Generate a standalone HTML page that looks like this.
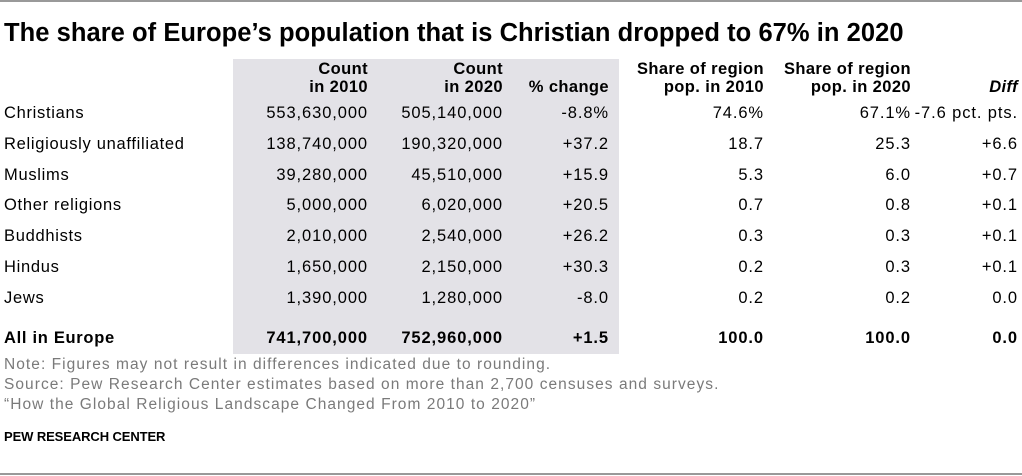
<!DOCTYPE html>
<html><head><meta charset="utf-8"><style>
body{margin:0;width:1022px;height:476px;background:#fff;position:relative;overflow:hidden;font-family:"Liberation Sans",sans-serif;color:#000}
.a{position:absolute;white-space:nowrap}
.c{font-size:16.5px;letter-spacing:0.7px}
.h{font-size:16.5px;font-weight:bold;line-height:18px;text-align:right;letter-spacing:0.4px}
.n{font-size:15.5px;color:#7a7a7a;letter-spacing:1.05px}
</style></head><body>
<div class="a" style="left:0;top:0;width:1022px;height:2px;background:#999"></div>
<div class="a" style="left:0;top:473px;width:1022px;height:2px;background:#999"></div>
<div class="a" style="left:4px;top:19px;font-size:25.5px;font-weight:bold;letter-spacing:0.05px">The share of Europe’s population that is Christian dropped to 67% in 2020</div>
<div class="a" style="left:233px;top:59px;width:386px;height:295px;background:#e3e2e7"></div>
<div id="tbl"></div>
<div class="a n" style="left:4px;top:356px">Note: Figures may not result in differences indicated due to rounding.</div>
<div class="a n" style="left:4px;top:376px">Source: Pew Research Center estimates based on more than 2,700 censuses and surveys.</div>
<div class="a n" style="left:4px;top:396px">“How the Global Religious Landscape Changed From 2010 to 2020”</div>
<div class="a" style="left:4px;top:429px;font-size:13px;font-weight:bold;letter-spacing:-0.1px">PEW RESEARCH CENTER</div>
<script>
const headers=[["Count","in 2010"],["Count","in 2020"],["","% change"],["Share of region","pop. in 2010"],["Share of region","pop. in 2020"],["","Diff"]];
const groups=["Christians","Religiously unaffiliated","Muslims","Other religions","Buddhists","Hindus","Jews","All in Europe"];
const count2010=["553,630,000","138,740,000","39,280,000","5,000,000","2,010,000","1,650,000","1,390,000","741,700,000"];
const count2020=["505,140,000","190,320,000","45,510,000","6,020,000","2,540,000","2,150,000","1,280,000","752,960,000"];
const pctChange=["-8.8%","+37.2","+15.9","+20.5","+26.2","+30.3","-8.0","+1.5"];
const share2010=["74.6%","18.7","5.3","0.7","0.3","0.2","0.2","100.0"];
const share2020=["67.1%","25.3","6.0","0.8","0.3","0.3","0.2","100.0"];
const diff=["-7.6 pct. pts.","+6.6","+0.7","+0.1","+0.1","+0.1","0.0","0.0"];
const rights=[368,503,609,764,911,1018];
const cols=[count2010,count2020,pctChange,share2010,share2020,diff];
const T=document.getElementById('tbl');
function add(txt,cls,l,r,t,name){const d=document.createElement('div');d.className='a '+cls;d.textContent=txt;


if(r!=null){d.style.right=(1022-r)+'px';}else d.style.left=l+'px';d.style.top=t+'px';T.appendChild(d);return d;}
headers.forEach((h,i)=>{const d=add('', 'h',null,rights[i],60,'column-header');d.innerHTML=h[0]+'<br>'+(i==5?'<i>'+h[1]+'</i>':h[1]);});
groups.forEach((g,j)=>{const y=j<7?104+j*30.8:329;const b=j==7;
const e=add(g,'c',4,null,y,'row-label');if(b)e.style.fontWeight='bold';
cols.forEach((c,i)=>{const d=add(c[j],'c',null,rights[i],y,'cell');d.style.letterSpacing='0.9px';if(b)d.style.fontWeight='bold';});});
</script>
</body></html>
